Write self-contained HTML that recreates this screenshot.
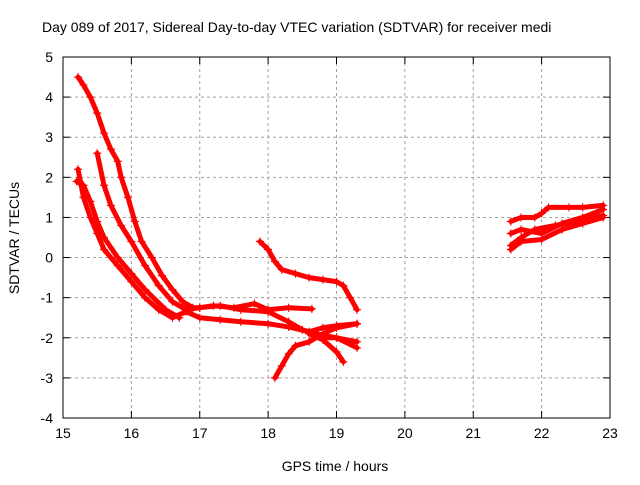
<!DOCTYPE html>
<html><head><meta charset="utf-8"><style>
body{margin:0;background:#fff;overflow:hidden}
svg text{font-family:"Liberation Sans",sans-serif;font-size:14px;fill:#000}
</style></head><body>
<svg id="c" width="640" height="480" xmlns="http://www.w3.org/2000/svg">
<rect width="640" height="480" fill="#fff"/>
<text x="42" y="32">Day 089 of 2017, Sidereal Day-to-day VTEC variation (SDTVAR) for receiver medi</text>
<text x="335" y="471" text-anchor="middle">GPS time / hours</text>
<text transform="translate(19,238) rotate(-90)" text-anchor="middle">SDTVAR / TECUs</text>
<g id="grid"></g><g id="ticks"></g><g id="series"></g>
<rect x="63" y="57" width="547" height="361" fill="none" stroke="#000"/>
</svg>
<script>
const xTicks=[15,16,17,18,19,20,21,22,23];
const yTicks=[-4,-3,-2,-1,0,1,2,3,4,5];
const trackA=[[15.22,4.5],[15.3,4.3],[15.4,4.0],[15.5,3.6],[15.6,3.1],[15.7,2.7],[15.8,2.4],[15.85,2.0],[15.95,1.5],[16.05,0.9],[16.15,0.4],[16.3,0.0],[16.45,-0.45],[16.6,-0.8],[16.75,-1.1],[16.9,-1.25],[17.0,-1.25],[17.2,-1.2],[17.5,-1.25],[17.8,-1.15],[18.0,-1.3],[18.3,-1.25],[18.64,-1.28]];
const trackB=[[15.5,2.6],[15.6,1.8],[15.7,1.3],[15.85,0.8],[16.0,0.4],[16.2,-0.2],[16.4,-0.7],[16.6,-1.1],[16.8,-1.3],[17.0,-1.25],[17.3,-1.2],[17.6,-1.3],[18.0,-1.35],[18.3,-1.6],[18.5,-1.8],[18.7,-1.9],[19.0,-2.0],[19.3,-2.1]];
const trackC=[[15.22,2.2],[15.3,1.5],[15.4,1.0],[15.5,0.6],[15.6,0.2],[15.8,-0.2],[16.0,-0.6],[16.2,-1.0],[16.4,-1.3],[16.6,-1.5],[16.8,-1.35],[17.0,-1.5],[17.3,-1.55],[17.6,-1.6],[18.0,-1.65],[18.3,-1.73],[18.6,-1.85],[18.8,-1.75],[19.0,-1.7],[19.3,-1.65]];
const trackD=[[15.2,1.9],[15.3,1.8],[15.4,1.4],[15.5,0.9],[15.6,0.5],[15.8,0.0],[16.0,-0.4],[16.2,-0.8],[16.5,-1.3],[16.7,-1.5]];
const trackE=[[17.88,0.4],[18.0,0.2],[18.1,-0.1],[18.2,-0.3],[18.4,-0.4],[18.6,-0.5],[18.8,-0.55],[19.0,-0.6],[19.1,-0.7],[19.2,-1.0],[19.3,-1.3]];
const trackF=[[18.1,-3.0],[18.2,-2.7],[18.3,-2.4],[18.4,-2.2],[18.6,-2.1],[18.8,-1.9],[19.0,-1.75],[19.3,-1.65]];
const trackG=[[18.6,-1.9],[18.8,-2.05],[19.0,-2.35],[19.1,-2.6]];
const trackG2=[[18.8,-2.0],[19.0,-2.0],[19.3,-2.25]];
const trackH=[[21.55,0.9],[21.7,1.0],[21.9,1.0],[22.0,1.1],[22.1,1.25],[22.4,1.25],[22.6,1.25],[22.9,1.3]];
const trackI=[[21.55,0.6],[21.7,0.7],[22.0,0.6],[22.3,0.85],[22.6,1.0],[22.9,1.2]];
const trackJ=[[21.55,0.3],[21.7,0.5],[21.9,0.7],[22.2,0.8],[22.5,0.9],[22.9,1.05]];
const trackK=[[21.55,0.2],[21.7,0.4],[22.0,0.45],[22.3,0.7],[22.6,0.85],[22.9,1.0]];
const tracks=[trackA,trackB,trackC,trackD,trackE,trackF,trackG,trackG2,trackH,trackI,trackJ,trackK];
const NS="http://www.w3.org/2000/svg";
const X0=63,X1=610,Y0=418,Y1=57;
const sx=v=>X0+(v-15)/8*(X1-X0);
const sy=v=>Y0-(v+4)/9*(Y0-Y1);
function mk(t,a,p){const e=document.createElementNS(NS,t);for(const k in a)e.setAttribute(k,a[k]);p.appendChild(e);return e;}
const grid=document.getElementById('grid'),ticks=document.getElementById('ticks'),ser=document.getElementById('series');
xTicks.forEach(v=>{const x=sx(v);
 if(v>15&&v<23){const g=mk('line',{x1:x,x2:x,y1:Y1,y2:Y0,stroke:'#a0a0a0','stroke-dasharray':'3,3'},grid);}
 mk('line',{x1:x,x2:x,y1:Y0,y2:Y0-7,stroke:'#000'},ticks);mk('line',{x1:x,x2:x,y1:Y1,y2:Y1+7,stroke:'#000'},ticks);
 const t=mk('text',{x:x,y:Y0+20,'text-anchor':'middle'},ticks);t.textContent=v;
 });
yTicks.forEach(v=>{const y=sy(v);
 if(v>-4&&v<5){const g=mk('line',{x1:X0,x2:X1,y1:y,y2:y,stroke:'#a0a0a0','stroke-dasharray':'3,3'},grid);}
 mk('line',{x1:X0,x2:X0+7,y1:y,y2:y,stroke:'#000'},ticks);mk('line',{x1:X1,x2:X1-7,y1:y,y2:y,stroke:'#000'},ticks);
 const t=mk('text',{x:X0-10,y:y+5,'text-anchor':'end'},ticks);t.textContent=v;
 });
tracks.forEach((tr,i)=>{
 const g=mk('g',{},ser);
 
 
 mk('polyline',{points:tr.map(p=>sx(p[0])+','+sy(p[1])).join(' '),fill:'none',stroke:'#f00','stroke-width':5,'stroke-linejoin':'round','stroke-linecap':'round'},g);
 tr.forEach(p=>{const x=sx(p[0]),y=sy(p[1]);
  mk('path',{d:`M${x-4},${y}H${x+4}M${x},${y-4}V${y+4}`,stroke:'#f00','stroke-width':1.2},g);});
});
</script>
</body></html>
